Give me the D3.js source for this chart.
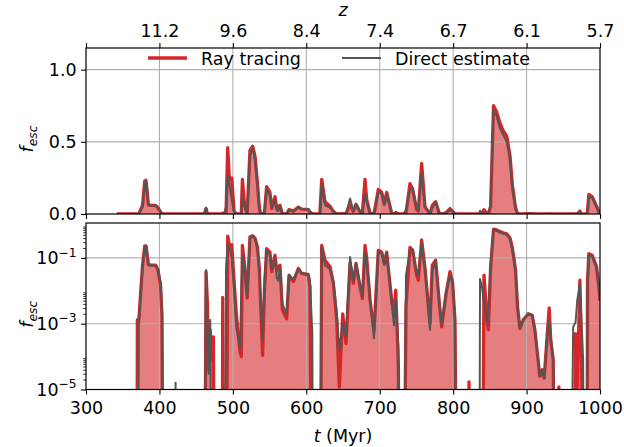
<!DOCTYPE html>
<html><head><meta charset="utf-8">
<script src="https://cdn.jsdelivr.net/npm/d3@7"></script>
<style>body{margin:0;background:#fff}svg{display:block;font-family:"DejaVu Sans",sans-serif}</style>
</head><body><svg id="chart" width="624" height="447"></svg>
<script>
// ---- data ----
const time = [342,369,370,372,377,380,382,385,389,395,398,401.5,403.5,405.5,420,422,424,
  461,463.5,465.3,467.1,469.2,471.2,473.5,475.7,485.3,486.2,488,490.7,493,495.3,498.5,501.6,504.5,509.8,511.5,
  513,516,519.5,523.3,527,530.2,533.4,536,537.5,540.5,543,546,550.5,553,557.4,559.7,562,564.2,567.4,573.3,
  576.5,582.4,589.2,593.7,602.8,605,608.2,609.6,618.5,621,625.5,632.3,636.9,641.4,645,649.6,654.1,659.6,
  664.1,667.7,673.2,676.4,680,682.3,686.8,692.2,698.1,702.7,706.3,709.5,716.3,719.5,721.8,725.4,727.6,
  732.1,735.8,741.2,744.9,750.3,752.6,757.1,761.7,768.5,771.6,776.2,781.2,784.4,790.3,795.7,799.3,802.5,
  805.7,819,821.6,823.5,835.5,836.6,839.5,842,846.6,848,851,855,859,863.9,868,873,877.5,880.7,885,887.7,
  890.9,895.4,902.2,907.7,911.3,918.1,921.3,924,928.6,930.8,933,936.3,939.5,942,944,946,959,963.5,966.7,
  969,972.6,975,977,979,982,983,984.8,989.4,995.3,998.5,1000];
const rayTracing = [0,0,1.3e-3,1.4e-3,0.06,0.23,0.22,0.063,0.06,0.06,0.043,0.015,1.8e-3,0,0,0,0,
  0,0.038,4.2e-3,4e-5,6.5e-4,8e-5,4e-4,0,0,6.3e-3,0,0,0.46,0.24,0.25,0.021,2.3e-3,1.4e-4,1e-4,
  0.24,0.06,6e-3,0.44,0.47,0.4,0.22,0.05,6e-3,1.1e-4,0.01,0.19,0.15,0.038,0.12,0.04,0.054,0.06,2.6e-3,1.4e-3,
  0.03,0.019,0.048,0.034,0.03,0.013,0,0,0,0.24,0.085,0.054,0.017,1.3e-3,1.2e-5,2e-3,2.5e-4,0.07,
  0.017,0.068,0.013,5.9e-3,0.24,0.1,5.2e-3,6e-4,0.17,0.15,0.068,0.15,5.2e-3,2e-3,0.0105,5.6e-5,0,
  0,3.3e-3,0.21,0.17,0.03,0.021,0.35,0.048,1e-3,0.06,0.085,4.2e-3,8e-4,8.3e-3,0.038,0.017,1.3e-3,
  0,0,1.7e-5,0,0,0,0,0.03,1e-3,6.5e-4,0.05,0.75,0.71,0.63,0.58,0.54,0.40,0.2,0.043,3.3e-3,
  7.2e-4,1.3e-3,2e-3,1.8e-3,6.5e-4,2.5e-5,4e-5,2.2e-5,6.5e-4,3e-3,3e-4,8e-5,0,0,1.2e-5,0,0,0,5e-4,
  1e-5,0.021,5e-5,0,0,0,0.02,0.135,0.12,0.054,0.013,0.005];
const directEstimate = [0,0,0,9e-4,0.05,0.2,0.24,0.06,0.058,0.058,0.045,0.018,3e-3,0,0,1.6e-5,0,
  0,0.043,1.3e-3,3e-5,1.3e-3,0,0,0,0,0,0,0.05,0.27,0.2,0.1,0.012,8e-4,1.8e-4,0.01,
  0.12,0.05,7e-3,0.4,0.46,0.37,0.2,0.04,8e-3,3e-4,0.02,0.17,0.13,0.045,0.1,0.025,0.02,0.05,4e-3,2e-3,
  0.03,0.022,0.045,0.035,0.033,0.02,5e-4,0,0,0.21,0.06,0.045,0.02,2.5e-3,1.6e-4,1e-3,4e-4,0.107,
  0.02,0.07,0.015,7e-3,0.14,0.08,6e-3,3.6e-4,0.15,0.14,0.06,0.14,4e-3,9e-4,6e-3,2e-4,0,
  0,0.03,0.17,0.18,0.035,0.03,0.28,0.05,6.5e-4,0.04,0.08,4e-3,1e-3,8e-3,0.03,0.02,1.3e-3,
  0,0,0,0,0,0.023,0.012,4e-3,1e-3,3e-3,0.06,0.72,0.68,0.59,0.55,0.5,0.38,0.17,0.04,3e-3,
  7e-4,1.3e-3,2e-3,1.8e-3,6.5e-4,2.5e-5,4e-5,2.2e-5,6.5e-4,1.2e-3,4e-4,8e-5,0,0,0,0,0,8e-4,1.1e-3,
  5e-3,0.017,1e-3,8e-5,0,0,0.01,0.12,0.11,0.05,0.015,0.006];
const seriesNames = ["Ray tracing", "Direct estimate"];
const xTicks = [300,400,500,600,700,800,900,1000];
const zTickPos = [300,400,500,600,700,800,900,1000];
const zTickLabels = ["","11.2","9.6","8.4","7.4","6.7","6.1","5.7"];
const linTicks = [0, 0.5, 1.0];
const linTickLabels = ["0.0","0.5","1.0"];
const logMajor = [1e-5, 1e-3, 1e-1];
const logMajorExp = ["\u22125","\u22123","\u22121"];

// ---- layout ----
const svg = d3.select("#chart");
const L = 86, R = 600;
const top1 = 48, bot1 = 214, top2 = 223, bot2 = 389.5;
const fs = 17.5;
const RED = "#d62728", GRAY = "#555555", GRID = "#b0b0b0";
const x = d3.scaleLinear().domain([300,1000]).range([L,R]);
const yLin = d3.scaleLinear().domain([0,1.15]).range([bot1,top1]);
const yLog = d3.scaleLog().domain([1e-5,1.15]).range([bot2,top2]);
const FLOOR = 1e-12;
const rows = time.map((t,i)=>({t, r: rayTracing[i], g: directEstimate[i]}));

const defs = svg.append("defs");
defs.append("clipPath").attr("id","c1").append("rect").attr("x",L).attr("y",top1).attr("width",R-L).attr("height",bot1-top1);
defs.append("clipPath").attr("id","c2").append("rect").attr("x",L).attr("y",top2).attr("width",R-L).attr("height",bot2-top2);

function panel(y, clipId, isLog, gridVals){
  const g = svg.append("g");
  const yv = v => isLog ? y(Math.max(v, FLOOR)) : y(v);
  const inner = g.append("g").attr("clip-path",`url(#${clipId})`);
  inner.append("path").datum(rows)
    .attr("d", d3.area().x(d=>x(d.t)).y0(isLog ? y(FLOOR) : y(0)).y1(d=>yv(d.r)))
    .attr("fill", RED).attr("fill-opacity",0.6).attr("stroke","none");
  [400,500,600,700,800,900].forEach(t=>{
    g.append("line").attr("x1",x(t)).attr("x2",x(t)).attr("y1",y.range()[0]).attr("y2",y.range()[1])
     .attr("stroke",GRID).attr("stroke-width",1.1);
  });
  gridVals.forEach(v=>{
    g.append("line").attr("x1",L).attr("x2",R).attr("y1",y(v)).attr("y2",y(v))
     .attr("stroke",GRID).attr("stroke-width",1.1);
  });
  const lines = g.append("g").attr("clip-path",`url(#${clipId})`);
  lines.append("path").datum(rows)
    .attr("d", d3.line().x(d=>x(d.t)).y(d=>yv(d.r)))
    .attr("fill","none").attr("stroke",RED).attr("stroke-width",3.3).attr("stroke-linejoin","round");
  lines.append("path").datum(rows)
    .attr("d", d3.line().x(d=>x(d.t)).y(d=>yv(d.g)))
    .attr("fill","none").attr("stroke",GRAY).attr("stroke-width",2).attr("stroke-linejoin","round");
  g.append("rect").attr("x",L).attr("y",y.range()[1]).attr("width",R-L).attr("height",y.range()[0]-y.range()[1])
   .attr("fill","none").attr("stroke","#000").attr("stroke-width",1.2);
  return g;
}

panel(yLin, "c1", false, [0.5, 1.0]);
panel(yLog, "c2", true, [1e-3, 1e-1]);

const ax1 = svg.append("g").attr("transform",`translate(${L},0)`)
  .call(d3.axisLeft(yLin).tickValues(linTicks).tickFormat((d,i)=>linTickLabels[i]).tickSize(4.9).tickPadding(4.5));
const ax1b = svg.append("g").attr("transform",`translate(0,${bot1})`)
  .call(d3.axisBottom(x).tickValues(xTicks).tickFormat("").tickSize(4.9));
const axz = svg.append("g").attr("transform",`translate(0,${top1})`)
  .call(d3.axisTop(x).tickValues(zTickPos).tickFormat((d,i)=>zTickLabels[i]).tickSize(4.9).tickPadding(6.5));
const ax2b = svg.append("g").attr("transform",`translate(0,${bot2})`)
  .call(d3.axisBottom(x).tickValues(xTicks).tickFormat(d3.format("d")).tickSize(4.9).tickPadding(7.5));
const ax2 = svg.append("g").attr("transform",`translate(${L},0)`)
  .call(d3.axisLeft(yLog).tickValues(logMajor).tickFormat("").tickSize(4.9));
const minorVals = [];
logMajor.forEach(m=>{ for(let k=2;k<=9;k++){ const v=m*k; if(v<=1.15) minorVals.push(v);} });
const ax2m = svg.append("g").attr("transform",`translate(${L},0)`)
  .call(d3.axisLeft(yLog).tickValues(minorVals).tickFormat("").tickSize(2.8));

[ax1,ax1b,axz,ax2b,ax2,ax2m].forEach(a=>{
  a.select(".domain").remove();
  a.selectAll("line").attr("stroke","#000").attr("stroke-width",1.1);
  a.selectAll("text").attr("font-size",fs).attr("font-family","DejaVu Sans").attr("fill","#000");
});
ax2m.selectAll("line").attr("stroke-width",0.8);

logMajor.forEach((v,i)=>{
  const t = svg.append("text").attr("x",L-4.9-4.5).attr("y",yLog(v)+6.3).attr("text-anchor","end")
    .attr("font-size",fs).attr("fill","#000");
  t.append("tspan").text("10");
  t.append("tspan").attr("font-size",fs*0.7).attr("dy",-7.5).text(logMajorExp[i]);
});

function fescLabel(cy){
  const t = svg.append("text").attr("transform",`translate(33,${cy}) rotate(-90)`)
    .attr("text-anchor","middle").attr("font-size",fs).attr("fill","#000");
  t.append("tspan").attr("font-style","italic").text("f");
  t.append("tspan").attr("font-style","italic").attr("font-size",fs*0.7).attr("dy",4).text("esc");
}
fescLabel((top1+bot1)/2 + 8);
fescLabel((top2+bot2)/2 + 8);

const xl = svg.append("text").attr("x",(L+R)/2).attr("y",442).attr("text-anchor","middle").attr("font-size",fs).attr("fill","#000");
xl.append("tspan").attr("font-style","italic").text("t");
xl.append("tspan").text(" (Myr)");
svg.append("text").attr("x",(L+R)/2).attr("y",16).attr("text-anchor","middle").attr("font-size",fs)
  .attr("font-style","italic").attr("fill","#000").text("z");

const leg = [{name:seriesNames[0],c:RED,w:3.3,x0:148},{name:seriesNames[1],c:GRAY,w:2,x0:342}];
leg.forEach(d=>{
  svg.append("line").attr("x1",d.x0).attr("x2",d.x0+39).attr("y1",58).attr("y2",58)
    .attr("stroke",d.c).attr("stroke-width",d.w);
  svg.append("text").attr("x",d.x0+53).attr("y",64.5).attr("font-size",fs).attr("fill","#000").text(d.name);
});
</script></body></html>
